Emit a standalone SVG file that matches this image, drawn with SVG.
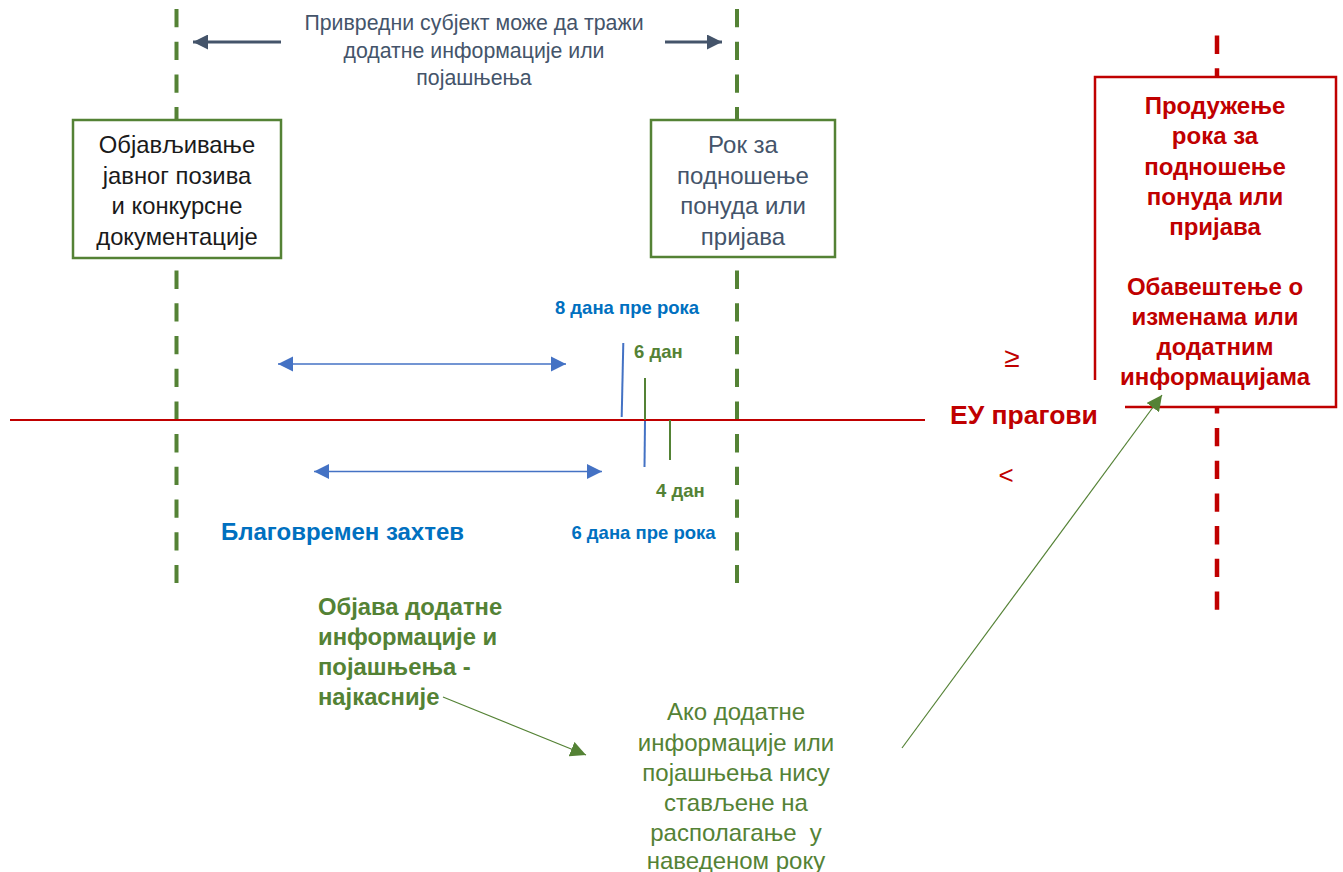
<svg xmlns="http://www.w3.org/2000/svg" width="1343" height="872" viewBox="0 0 1343 872">
<defs>
<style>
text{font-family:"Liberation Sans",Arial,sans-serif;}
.gdash{stroke:#548235;stroke-width:4;stroke-dasharray:18.3 14.4;fill:none;}
.rdash{stroke:#C00000;stroke-width:4.5;stroke-dasharray:18.3 14.4;fill:none;}
.gbox{fill:#fff;stroke:#548235;stroke-width:2.5;}
.slate{fill:#44546A;}
.blk{fill:#1a1a1a;}
.red{fill:#C00000;font-weight:bold;}
.blue{fill:#0070C0;font-weight:bold;}
.green{fill:#548235;}
.gb{fill:#548235;font-weight:bold;}
</style>
<marker id="ahS" viewBox="0 0 10 10" refX="10" refY="5" markerWidth="5" markerHeight="5" orient="auto-start-reverse" markerUnits="strokeWidth"><path d="M0,0 L10,5 L0,10 z" fill="#44546A"/></marker>
<marker id="ahB" viewBox="0 0 10 10" refX="10" refY="5" markerWidth="10" markerHeight="10.5" orient="auto-start-reverse" markerUnits="strokeWidth"><path d="M0,0 L10,5 L0,10 z" fill="#4472C4"/></marker>
<marker id="ahG" viewBox="0 0 10 10" refX="10" refY="5" markerWidth="13" markerHeight="13" orient="auto" markerUnits="strokeWidth"><path d="M0,0 L10,5 L0,10 z" fill="#548235"/></marker>
</defs>
<rect width="1343" height="872" fill="#fff"/>

<g id="timelines">
<line class="gdash" x1="176.5" y1="9" x2="176.5" y2="583"/>
<line class="gdash" x1="737" y1="9" x2="737" y2="583"/>
<line class="rdash" x1="1217" y1="35.6" x2="1217" y2="610"/>
<line x1="10" y1="420" x2="925" y2="420" stroke="#C00000" stroke-width="2"/>
</g>

<g id="node-objava">
<rect class="gbox" x="73" y="120" width="208" height="138"/>
<text class="blk" font-size="23.8" text-anchor="middle"><tspan x="177" y="153">Објављивање</tspan><tspan x="177" y="184">јавног позива</tspan><tspan x="177" y="214">и конкурсне</tspan><tspan x="177" y="245">документације</tspan></text>
</g>

<g id="node-rok">
<rect class="gbox" x="651" y="120" width="184" height="137"/>
<text class="slate" font-size="24" text-anchor="middle"><tspan x="743" y="153">Рок за</tspan><tspan x="743" y="184">подношење</tspan><tspan x="743" y="214">понуда или</tspan><tspan x="743" y="245">пријава</tspan></text>
</g>

<g id="node-produzenje">
<rect x="1095" y="77" width="241" height="330" fill="#fff"/>
<path d="M1095,380 V77 H1336 V407 H1125" fill="none" stroke="#C00000" stroke-width="2.5"/>
<text class="red" font-size="24" text-anchor="middle"><tspan x="1215" y="114">Продужење</tspan><tspan x="1215" y="144">рока за</tspan><tspan x="1215" y="175">подношење</tspan><tspan x="1215" y="205">понуда или</tspan><tspan x="1215" y="235">пријава</tspan><tspan x="1215" y="295">Обавештење о</tspan><tspan x="1215" y="325">изменама или</tspan><tspan x="1215" y="355">додатним</tspan><tspan x="1215" y="385">информацијама</tspan></text>
</g>

<g id="node-pravo">
<text class="slate" font-size="21.3" text-anchor="middle"><tspan x="474" y="29.5">Привредни субјект може да тражи</tspan><tspan x="474" y="58">додатне информације или</tspan><tspan x="474" y="85">појашњења</tspan></text>
</g>

<g id="node-eu">
<text class="red" font-size="26.5" x="950" y="424">ЕУ прагови</text>
<text fill="#C00000" font-size="28" x="1012" y="367" text-anchor="middle">≥</text>
<text fill="#C00000" font-size="26" x="1006" y="484" text-anchor="middle">&lt;</text>
</g>

<g id="labels">
<text class="blue" font-size="18.5" x="627" y="314" text-anchor="middle">8 дана пре рока</text>
<text class="gb" font-size="18.5" x="634" y="358">6 дан</text>
<text class="gb" font-size="18.5" x="656" y="497">4 дан</text>
<text class="blue" font-size="18.5" x="643.5" y="539" text-anchor="middle">6 дана пре рока</text>
<text class="blue" font-size="24" x="221" y="540">Благовремен захтев</text>
</g>

<g id="node-najkasnije">
<text class="gb" font-size="23.8"><tspan x="318" y="615">Објава додатне</tspan><tspan x="318" y="645">информације и</tspan><tspan x="318" y="675">појашњења -</tspan><tspan x="318" y="705">најкасније</tspan></text>
</g>

<g id="node-ako">
<text class="green" font-size="24" text-anchor="middle"><tspan x="736" y="720">Ако додатне</tspan><tspan x="736" y="751">информације или</tspan><tspan x="736" y="781">појашњења нису</tspan><tspan x="736" y="811">стављене на</tspan><tspan x="736" y="841" style="white-space:pre">располагање  у</tspan><tspan x="736" y="869">наведеном року</tspan></text>
</g>

<g id="connectors">
<line x1="281" y1="42" x2="193" y2="42" stroke="#44546A" stroke-width="3" marker-end="url(#ahS)"/>
<line x1="665" y1="42" x2="722" y2="42" stroke="#44546A" stroke-width="3" marker-end="url(#ahS)"/>
<line x1="278" y1="364" x2="566" y2="364" stroke="#4472C4" stroke-width="1.5" marker-start="url(#ahB)" marker-end="url(#ahB)"/>
<line x1="314" y1="471.5" x2="602" y2="471.5" stroke="#4472C4" stroke-width="1.5" marker-start="url(#ahB)" marker-end="url(#ahB)"/>
<line x1="623.3" y1="343" x2="621.7" y2="417" stroke="#4472C4" stroke-width="2"/>
<line x1="645" y1="421" x2="644.5" y2="467" stroke="#4472C4" stroke-width="2"/>
<line x1="645" y1="378" x2="645" y2="420" stroke="#548235" stroke-width="2"/>
<line x1="670" y1="420" x2="670" y2="460" stroke="#548235" stroke-width="2"/>
<line x1="443" y1="697" x2="586" y2="755" stroke="#548235" stroke-width="1.2" marker-end="url(#ahG)"/>
<line x1="902" y1="748" x2="1162" y2="395" stroke="#548235" stroke-width="1.2" marker-end="url(#ahG)"/>
</g>
</svg>
